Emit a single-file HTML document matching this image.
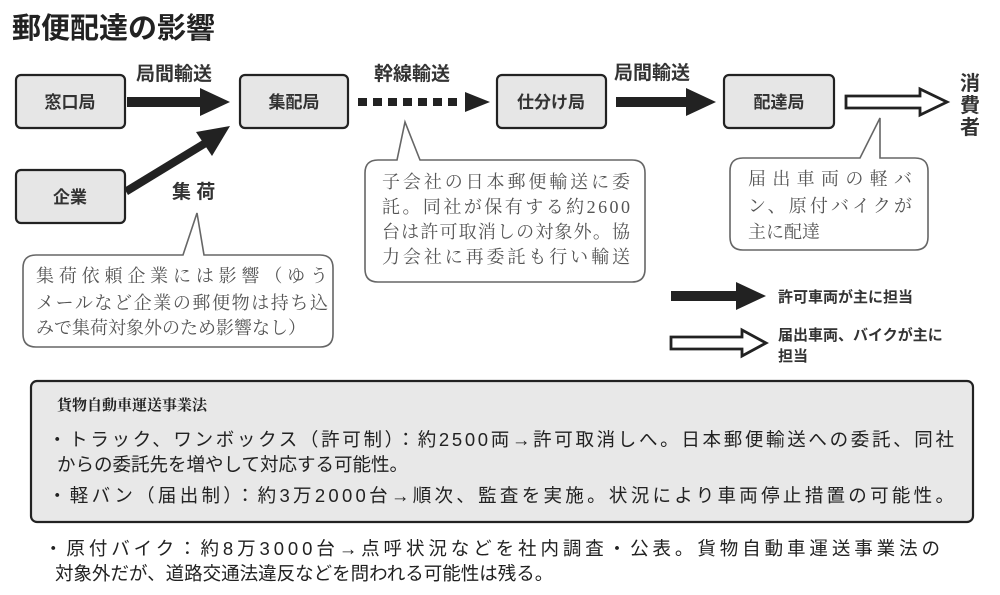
<!DOCTYPE html>
<html><head><meta charset="utf-8"><style>
body{margin:0;background:#fff;}
svg text{font-family:"Liberation Sans","Noto Sans CJK JP",sans-serif;}
.s{font-family:"Liberation Serif","Noto Serif CJK SC",serif !important;fill:#555;}
</style></head><body>
<svg width="1000" height="590" viewBox="0 0 1000 590" xmlns="http://www.w3.org/2000/svg">
<rect width="1000" height="590" fill="#fff"/>
<text x="12" y="38" font-size="29" font-weight="bold" fill="#222">郵便配達の影響</text>
<g fill="#e6e6e6" stroke="#222" stroke-width="2.2">
<rect x="16" y="75" width="109" height="53" rx="5"/>
<rect x="240" y="75" width="108" height="53" rx="5"/>
<rect x="497" y="75" width="109" height="53" rx="5"/>
<rect x="724" y="75" width="110" height="53" rx="5"/>
<rect x="16" y="170" width="109" height="53" rx="5"/>
</g>
<g font-size="17" font-weight="bold" fill="#333" text-anchor="middle">
<text x="70" y="108">窓口局</text>
<text x="294" y="108">集配局</text>
<text x="551" y="108">仕分け局</text>
<text x="779" y="108">配達局</text>
<text x="70" y="203">企業</text>
</g>
<g font-size="19" font-weight="bold" fill="#333">
<text x="136" y="80">局間輸送</text>
<text x="374" y="80">幹線輸送</text>
<text x="614" y="79">局間輸送</text>
<text x="172" y="198">集 荷</text>
</g>
<g font-size="20" font-weight="bold" fill="#333" text-anchor="middle">
<text x="970" y="90">消</text><text x="970" y="112">費</text><text x="970" y="134">者</text>
</g>
<g fill="#222">
<rect x="127" y="97" width="80" height="10"/><polygon points="200,88 230,102 200,116"/>
<polygon points="124,188 206,138 210,145 128,195"/><polygon points="196,132 230,126 212,156"/>
<rect x="616" y="97" width="75" height="10"/><polygon points="686,88 716,102 686,116"/>
<rect x="671" y="291" width="70" height="10"/><polygon points="736,282 766,296 736,310"/>
</g>
<g fill="#222">
<rect x="358" y="98" width="9" height="8"/><rect x="373" y="98" width="9" height="8"/><rect x="388" y="98" width="9" height="8"/><rect x="403" y="98" width="9" height="8"/><rect x="418" y="98" width="9" height="8"/><rect x="433" y="98" width="9" height="8"/><rect x="448" y="98" width="9" height="8"/>
<polygon points="465,92 490,102 465,112"/>
</g>
<g fill="#fff" stroke="#222" stroke-width="2.8">
<polygon points="846,96 920,96 920,89 947,102 920,115 920,108 846,108"/>
<polygon points="671,337 742,337 742,330 766,343 742,356 742,349 671,349"/>
</g>
<g font-size="15" font-weight="bold" fill="#333">
<text x="778" y="302">許可車両が主に担当</text>
<text x="778" y="340">届出車両、バイクが主に</text>
<text x="778" y="361">担当</text>
</g>
<g fill="#fff" stroke="#666" stroke-width="1.6">
<path d="M36,255 H183 L197,213 L204,255 H320 Q333,255 333,268 V334 Q333,347 320,347 H36 Q23,347 23,334 V268 Q23,255 36,255Z"/>
<path d="M378,160 H397 L405,122 L420,160 H632 Q645,160 645,173 V269 Q645,282 632,282 H378 Q365,282 365,269 V173 Q365,160 378,160Z"/>
<path d="M743,158 H860 L880,118 L880,158 H915 Q928,158 928,171 V237 Q928,250 915,250 H743 Q730,250 730,237 V171 Q730,158 743,158Z"/>
</g>
<g font-size="18">
<text class="s" x="36" y="282" textLength="292">集荷依頼企業には影響（ゆう</text>
<text class="s" x="36" y="309" textLength="292">メールなど企業の郵便物は持ち込</text>
<text class="s" x="36" y="334">みで集荷対象外のため影響なし）</text>
<text class="s" x="382" y="188" textLength="248">子会社の日本郵便輸送に委</text>
<text class="s" x="382" y="213" textLength="248">託。同社が保有する約2600</text>
<text class="s" x="382" y="238" textLength="248">台は許可取消しの対象外。協</text>
<text class="s" x="382" y="263" textLength="248">力会社に再委託も行い輸送</text>
<text class="s" x="748" y="185" textLength="164">届出車両の軽バ</text>
<text class="s" x="748" y="212" textLength="164">ン、原付バイクが</text>
<text class="s" x="748" y="238">主に配達</text>
</g>
<rect x="31" y="381" width="942" height="141" rx="6" fill="#e8e8e8" stroke="#222" stroke-width="2.2"/>
<text x="57" y="410" font-size="15" font-weight="bold" class="s" style="fill:#222">貨物自動車運送事業法</text>
<g font-size="18.5" fill="#222">
<text x="48" y="446" textLength="906">・トラック、ワンボックス（許可制）：約2500両→許可取消しへ。日本郵便輸送への委託、同社</text>
<text x="57" y="471">からの委託先を増やして対応する可能性。</text>
<text x="48" y="502" textLength="906">・軽バン（届出制）：約3万2000台→順次、監査を実施。状況により車両停止措置の可能性。</text>
<text x="44" y="555" textLength="896">・原付バイク：約8万3000台→点呼状況などを社内調査・公表。貨物自動車運送事業法の</text>
<text x="55" y="580">対象外だが、道路交通法違反などを問われる可能性は残る。</text>
</g>
</svg>
</body></html>
